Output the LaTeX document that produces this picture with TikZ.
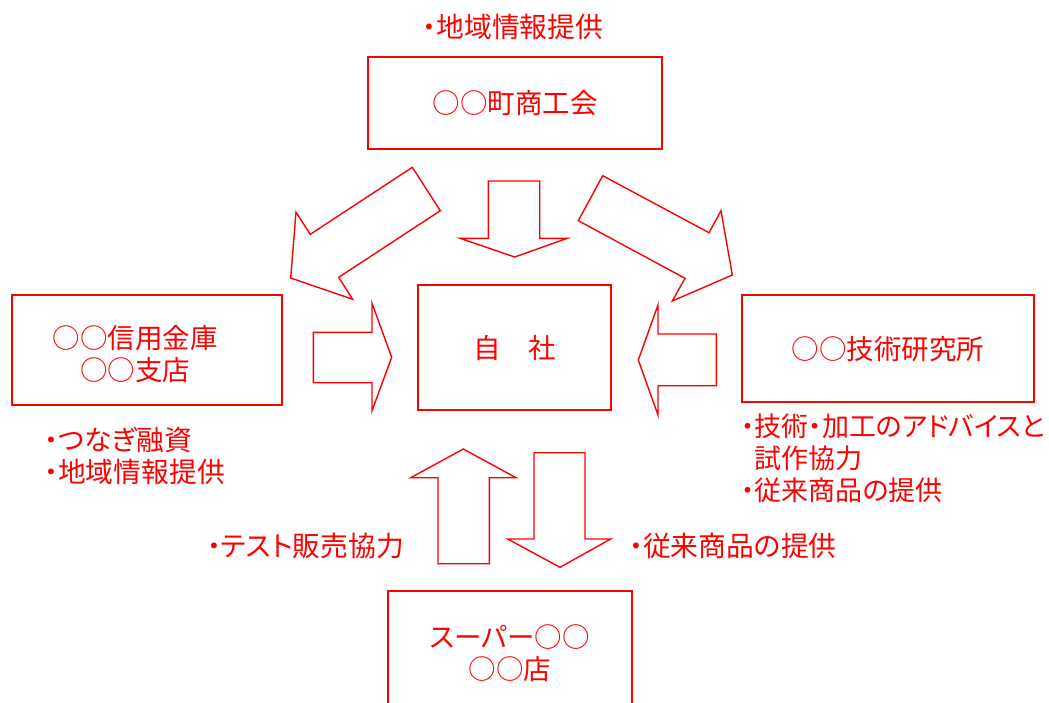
\documentclass[tikz,border=0pt]{standalone}
\usepackage{fontspec}
\setmainfont{Noto Sans CJK JP}[RawFeature=+palt]
\tikzset{
	box/.style={draw=red, line width=2pt, inner sep=0pt, text=red, align=center, font=\fontsize{27.5}{32}\selectfont},
	boxtext/.style={inner sep=0pt, text=red, align=center, font=\fontsize{27.5}{32}\selectfont},
	lbl/.style={inner sep=0pt, text=red, align=left, font=\fontsize{27.8}{31.7}\selectfont},
	blockarrow/.style={draw=red, line width=1.4pt, line join=miter}
}
\begin{document}
\begin{tikzpicture}[x=1pt, y=-1pt]
		\useasboundingbox (0, 0) rectangle (1049, 702);
		\node[box, minimum width=293.4pt, minimum height=92pt] (shoko) at (515, 103.3) {○○町商工会};
		\node[box, minimum width=270.6pt, minimum height=110pt] (bank) at (147, 350) {};
		\node[boxtext] (banktext) at (135, 354) {○○信用金庫\\○○支店};
		\node[box, minimum width=192.7pt, minimum height=125.3pt] (jisha) at (514.7, 347.7) {自　社};
		\node[box, minimum width=292.3pt, minimum height=107.3pt] (kenkyu) at (888, 348.7) {○○技術研究所};
		\begin{scope}
			\clip (0, 0) rectangle (1049, 702);
			\node[box, minimum width=243.4pt, minimum height=124pt] (super) at (510, 653) {スーパー○○\\○○店};
		\end{scope}
		% block arrows
		\draw[blockarrow] (412.3, 167.3) -- (440.3, 210.7) -- (338.7, 277.3) -- (352.7, 299.3) -- (290.7, 278) -- (296, 212.3) -- (310.3, 234.3) -- cycle;
		\draw[blockarrow] (488.3, 181) -- (539.7, 181) -- (539.7, 238.3) -- (567.3, 238.3) -- (514.7, 257) -- (460, 238.3) -- (488.3, 238.3) -- cycle;
		\draw[blockarrow] (602.7, 175.7) -- (578.3, 220.7) -- (685, 278.3) -- (672.3, 301) -- (732.3, 275) -- (721, 210.7) -- (709, 232.7) -- cycle;
		\draw[blockarrow] (313.3, 332.3) -- (372, 332.3) -- (372, 303.3) -- (391.7, 357.3) -- (372, 410.7) -- (372, 382.7) -- (313.3, 382.7) -- cycle;
		\draw[blockarrow] (716.3, 334) -- (658, 334) -- (658, 305) -- (638.3, 360) -- (658, 415) -- (658, 385.7) -- (716.3, 385.7) -- cycle;
		\draw[blockarrow] (438, 563.7) -- (438, 477.7) -- (410.7, 477.7) -- (463.3, 449) -- (516, 477.7) -- (489.3, 477.7) -- (489.3, 563.7) -- cycle;
		\draw[blockarrow] (534, 452.7) -- (585, 452.7) -- (585, 539) -- (610.7, 539) -- (560, 567.3) -- (507.7, 539) -- (534, 539) -- cycle;
		% labels
		\node[lbl] (shokolbl) at (513, 27) {・地域情報提供};
		\node[lbl, anchor=west] (banklbl) at (44, 456) {・つなぎ融資\\・地域情報提供};
		\node[lbl, anchor=west, font=\fontsize{27}{31.7}\selectfont] (kenkyulbl) at (741, 458.3) {・技術・加工のアドバイスと\\\phantom{・}試作協力\\・従来商品の提供};
		\node[lbl, anchor=west] (testlbl) at (207, 546) {・テスト販売協力};
		\node[lbl, anchor=west] (superlbl) at (629, 546) {・従来商品の提供};
\end{tikzpicture}
\end{document}
